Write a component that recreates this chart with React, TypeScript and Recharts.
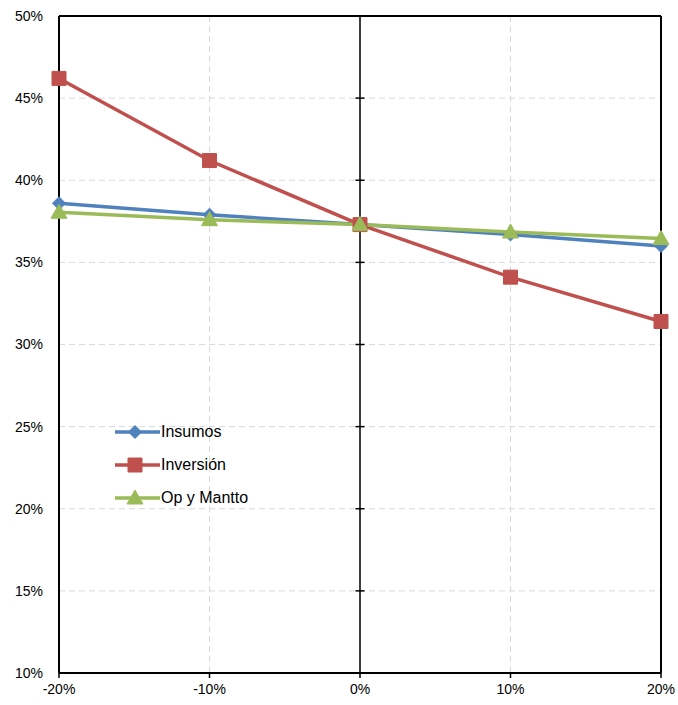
import {
  LineChart,
  Line,
  XAxis,
  YAxis,
  CartesianGrid,
  ReferenceLine,
} from 'recharts'

// sensitivity steps (%) and resulting rate (%) per variable
const steps = [-20, -10, 0, 10, 20]
const insumos = [38.6, 37.9, 37.3, 36.7, 36.0]
const inversion = [46.2, 41.2, 37.3, 34.1, 31.4]
const opMantto = [38.05, 37.6, 37.3, 36.85, 36.45]
const yTicks = [10, 15, 20, 25, 30, 35, 40, 45, 50]

const BLUE = '#4F81BD'
const RED = '#C0504D'
const GREEN = '#9BBB59'
const FONT = '"Liberation Sans", Arial, sans-serif'

const data = steps.map((x, i) => ({
  x,
  insumos: insumos[i],
  inversion: inversion[i],
  opMantto: opMantto[i],
}))

type Shape = 'diamond' | 'square' | 'triangle'

function markerPath(shape: Shape, cx: number, cy: number) {
  if (shape === 'diamond') {
    const r = 6.5
    return `M${cx},${cy - r}L${cx + r},${cy}L${cx},${cy + r}L${cx - r},${cy}Z`
  }
  if (shape === 'square') {
    const r = 7
    return `M${cx - r},${cy - r}h${2 * r}v${2 * r}h${-2 * r}Z`
  }
  return `M${cx},${cy - 8}L${cx + 8},${cy + 6}L${cx - 8},${cy + 6}Z`
}

function makeDot(shape: Shape, color: string) {
  return (props: any) => {
    const { cx, cy, index } = props
    if (cx == null || cy == null) return <g key={index} />
    return <path key={index} d={markerPath(shape, cx, cy)} fill={color} stroke={color} strokeWidth={1} />
  }
}

const series = [
  { key: 'insumos', name: 'Insumos', color: BLUE, shape: 'diamond' as Shape },
  { key: 'inversion', name: 'Inversión', color: RED, shape: 'square' as Shape },
  { key: 'opMantto', name: 'Op y Mantto', color: GREEN, shape: 'triangle' as Shape },
]

function LegendBox() {
  return (
    <div
      style={{
        position: 'absolute',
        left: 115,
        top: 415,
        fontFamily: FONT,
        fontSize: 16,
        color: '#000',
      }}
    >
      {series.map((s) => (
        <div key={s.key} style={{ display: 'flex', alignItems: 'center', height: 33 }}>
          <svg width={45} height={20}>
            <line x1={0} y1={10} x2={45} y2={10} stroke={s.color} strokeWidth={3.5} />
            <path d={markerPath(s.shape, 20, 10)} fill={s.color} stroke={s.color} />
          </svg>
          <span style={{ marginLeft: 1 }}>{s.name}</span>
        </div>
      ))}
    </div>
  )
}

export default function App() {
  return (
    <div style={{ position: 'absolute', left: 0, top: 0, width: 678, height: 705 }}>
      <LineChart
        width={678}
        height={705}
        data={data}
        margin={{ top: 16, right: 17, left: 0, bottom: 0 }}
      >
        <CartesianGrid stroke="#D9D9D9" strokeDasharray="6 4" />
        <XAxis
          type="number"
          dataKey="x"
          domain={[-20, 20]}
          ticks={steps}
          interval={0}
          height={32}
          tickFormatter={(v) => `${v}%`}
          tick={{ fill: '#000', fontSize: 14, fontFamily: FONT }}
          tickSize={5}
          tickMargin={6}
          tickLine={{ stroke: '#000', strokeWidth: 1.5 }}
          axisLine={{ stroke: '#000', strokeWidth: 2 }}
        />
        <YAxis
          domain={[10, 50]}
          ticks={yTicks}
          interval={0}
          width={59}
          tickFormatter={(v) => `${v}%`}
          tick={{ fill: '#000', fontSize: 14, fontFamily: FONT }}
          tickLine={false}
          tickSize={0}
          tickMargin={16}
          axisLine={{ stroke: '#000', strokeWidth: 2 }}
        />
        <ReferenceLine y={50} stroke="#000" strokeWidth={2} />
        <ReferenceLine x={20} stroke="#000" strokeWidth={2} />
        <ReferenceLine x={0} stroke="#000" strokeWidth={1.5} />
        {yTicks.map((y) => (
          <ReferenceLine
            key={y}
            segment={[
              { x: -0.3, y },
              { x: 0.3, y },
            ]}
            stroke="#000"
            strokeWidth={1.5}
          />
        ))}
        {series.map((s) => (
          <Line
            key={s.key}
            type="linear"
            dataKey={s.key}
            name={s.name}
            stroke={s.color}
            strokeWidth={3.5}
            dot={makeDot(s.shape, s.color)}
            activeDot={false}
            isAnimationActive={false}
          />
        ))}
      </LineChart>
      <LegendBox />
    </div>
  )
}
